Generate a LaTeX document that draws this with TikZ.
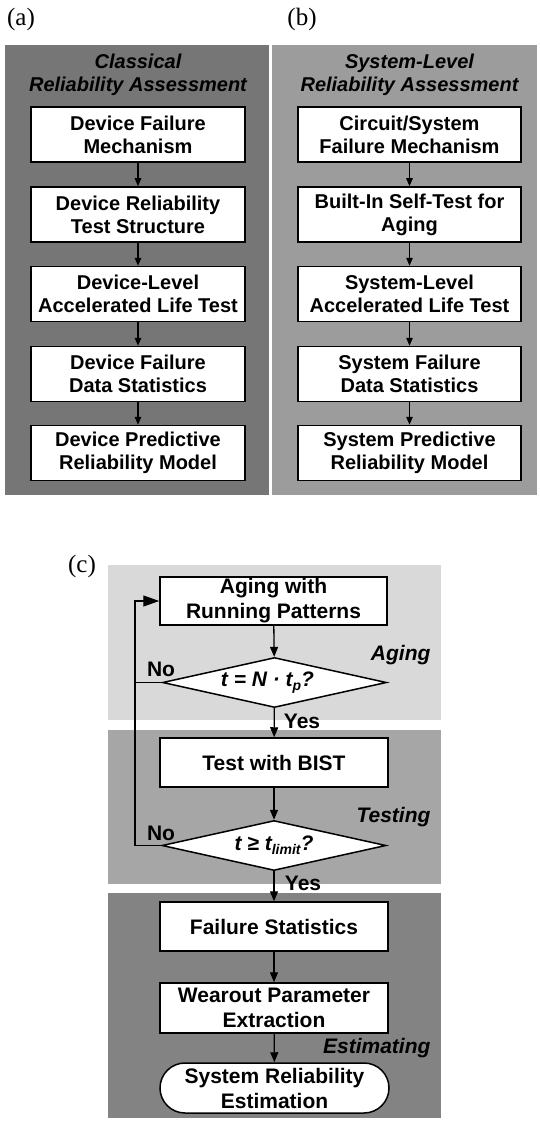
\documentclass[tikz,border=0pt]{standalone}
\usepackage{fontspec}
\setmainfont{Liberation Sans}
\newfontfamily\serifone{Liberation Serif}
\usetikzlibrary{arrows.meta,shapes.geometric,shapes.misc}
\definecolor{panelA}{RGB}{118,118,118}
\definecolor{panelB}{RGB}{156,156,156}
\definecolor{bandAging}{RGB}{217,217,217}
\definecolor{bandTest}{RGB}{166,166,166}
\definecolor{bandEst}{RGB}{131,131,131}
\newcommand\mysub[1]{\raisebox{-0.35ex}{\fontsize{14}{14}\selectfont #1}}
\tikzset{
  panelbox/.style={draw=black, line width=1.5pt, fill=white, inner sep=0pt,
    minimum width=214pt, minimum height=55pt, align=center,
    font=\fontsize{20}{23}\selectfont\bfseries},
  flowbox/.style={draw=black, line width=1.5pt, fill=white, inner sep=0pt,
    minimum width=228pt, minimum height=49pt, align=center,
    font=\fontsize{21}{25}\selectfont\bfseries},
  decide/.style={diamond, draw=black, line width=1.5pt, fill=white, inner sep=0pt,
    aspect=4.6, minimum width=224pt, minimum height=50pt,
    font=\fontsize{21}{25}\selectfont\bfseries\itshape},
  term/.style={rounded rectangle, draw=black, line width=1.5pt, fill=white, inner sep=0pt,
    minimum width=229pt, minimum height=50pt, align=center,
    font=\fontsize{21}{25}\selectfont\bfseries},
  titletext/.style={align=center, font=\fontsize{20}{23}\selectfont\bfseries\itshape},
  bandlabel/.style={anchor=east, font=\fontsize{21}{25}\selectfont\bfseries\itshape},
  yn/.style={font=\fontsize{21}{25}\selectfont\bfseries},
  paneltag/.style={font=\fontsize{25}{28}\selectfont\serifone},
  arr/.style={line width=1.3pt, -{Triangle[length=8pt,width=6.5pt]}},
  arrc/.style={line width=1.3pt, -{Triangle[length=10pt,width=8pt]}},
  arrbig/.style={line width=1.3pt, -{Triangle[length=16pt,width=11pt]}},
  plain/.style={line width=1.3pt}
}
\begin{document}
\begin{tikzpicture}[x=1pt,y=-1pt]
\useasboundingbox (0,0) rectangle (539,1123);
% panel tags
\node[paneltag] (ta) at (21,19) {(a)};
\node[paneltag] (tb) at (302,19) {(b)};
\node[paneltag] (tc) at (82,566) {(c)};
% panels
\fill[panelA] (5,45) rectangle (269,495);
\fill[panelB] (272,45) rectangle (537,495);
\node[titletext] (titA) at (138,74.5) {Classical\\Reliability Assessment};
\node[titletext] (titB) at (409.5,74.5) {System-Level\\Reliability Assessment};
% panel a
\node[panelbox] (a1) at (138,134.5) {Device Failure\\Mechanism};
\node[panelbox] (a2) at (138,214.5) {Device Reliability\\Test Structure};
\node[panelbox] (a3) at (138,294) {Device-Level\\Accelerated Life Test};
\node[panelbox] (a4) at (138,374) {Device Failure\\Data Statistics};
\node[panelbox] (a5) at (138,453) {Device Predictive\\Reliability Model};
\foreach \i/\j in {a1/a2,a2/a3,a3/a4,a4/a5} \draw[arr] (\i) -- (\j);
% panel b
\node[panelbox, minimum width=223pt] (b1) at (409.5,134.5) {Circuit/System\\Failure Mechanism};
\node[panelbox, minimum width=223pt] (b2) at (409.5,214.5) {Built-In Self-Test for\\Aging};
\node[panelbox, minimum width=223pt] (b3) at (409.5,294) {System-Level\\Accelerated Life Test};
\node[panelbox, minimum width=223pt] (b4) at (409.5,374) {System Failure\\Data Statistics};
\node[panelbox, minimum width=223pt] (b5) at (409.5,453) {System Predictive\\Reliability Model};
\foreach \i/\j in {b1/b2,b2/b3,b3/b4,b4/b5} \draw[arr] (\i) -- (\j);
% panel c bands
\fill[bandAging] (108,565) rectangle (441,720);
\fill[bandTest] (108,730) rectangle (441,884);
\fill[bandEst] (108,893) rectangle (441,1118);
\node[bandlabel] (lAging) at (434,655) {Aging};
\node[bandlabel] (lTest) at (434,817) {Testing};
\node[bandlabel] (lEst) at (434,1048) {Estimating};
% flow
\node[flowbox, minimum width=227pt, minimum height=48pt] (c1) at (273.5,601) {Aging with\\Running Patterns};
\node[decide] (d1) at (274.5,682.5) {t = N · t\mysub{p}?\hspace*{14pt}};
\node[flowbox] (c2) at (274,762.5) {Test with BIST};
\node[decide] (d2) at (274,845.5) {t ≥ t\mysub{limit}?};
\node[flowbox] (c3) at (274,926.5) {Failure Statistics};
\node[flowbox, minimum height=50pt] (c4) at (274,1008) {Wearout Parameter\\Extraction};
\node[term] (c5) at (274.5,1088) {System Reliability\\Estimation};
\draw[arrc] (c1) -- (d1);
\draw[arrc] (d1) -- (c2);
\draw[arrc] (c2) -- (d2);
\draw[arrc] (d2) -- (c3);
\draw[arrc] (c3) -- (c4);
\draw[arrc] (c4) -- (c5);
\coordinate (lx) at (135,0);
\draw[plain] (d1.west) -- (d1.west -| lx);
\draw[arrbig] (d2.west) -- (d2.west -| lx) |- (c1.west);
\node[yn] (no1) at (161,669) {No};
\node[yn] (no2) at (161,833) {No};
\node[yn] (yes1) at (302,721) {Yes};
\node[yn] (yes2) at (303,883) {Yes};
\end{tikzpicture}
\end{document}
